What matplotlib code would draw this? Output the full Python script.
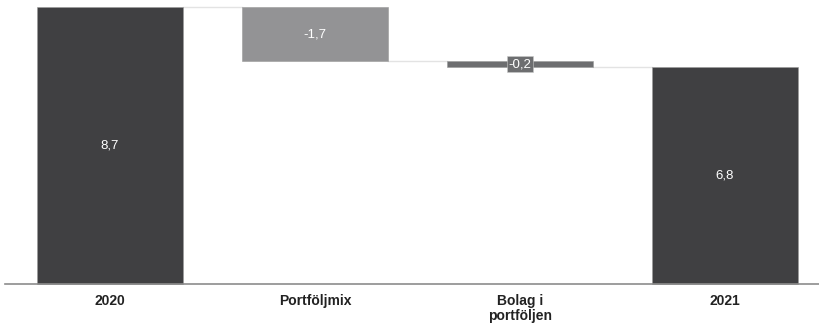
import matplotlib.pyplot as plt
from matplotlib import font_manager

# Data of the waterfall
categories = ["2020", "Portföljmix", "Bolag i\nportföljen", "2021"]
values = [8.7, -1.7, -0.2, 6.8]
labels = ["8,7", "-1,7", "-0,2", "6,8"]
kinds = ["total", "delta", "delta", "total"]

colors = ["#404042", "#939395", "#6d6e70", "#404042"]

fams = [f.name for f in font_manager.fontManager.ttflist]
font = "Liberation Sans Narrow" if "Liberation Sans Narrow" in fams else "Liberation Sans"
plt.rcParams["font.family"] = [font, "DejaVu Sans"]

fig = plt.figure(figsize=(8.19, 3.24), dpi=100)
W, H = 819, 324
ax = fig.add_axes([5 / W, (H - 284) / H, (W - 5) / W, (284 - 7) / H])

# compute bottoms for the waterfall
bottoms = []
heights = []
running = 0
for v, k in zip(values, kinds):
    if k == "total":
        bottoms.append(0)
        heights.append(v)
        running = v
    else:
        bottoms.append(running + v)
        heights.append(-v)
        running = running + v

x = list(range(len(categories)))
bars = ax.bar(x, heights, bottom=bottoms, width=0.71, color=colors,
              edgecolor="#9a9a9a", linewidth=0.4, clip_on=False, zorder=2)

# connector lines
for i in range(len(x) - 1):
    level = bottoms[i] + heights[i] if (kinds[i] == "total" or i == 0) else bottoms[i]
    if kinds[i + 1] == "delta" and kinds[i] == "total":
        level = bottoms[i] + heights[i]
    ax.plot([x[i] + 0.355, x[i + 1] - 0.355], [level, level], color="#e3e3e3",
            lw=1.0, clip_on=False, zorder=1)

# value labels
for i, b in enumerate(bars):
    cy = bottoms[i] + heights[i] / 2
    if abs(heights[i]) < 0.5:
        ax.text(x[i], cy, labels[i], ha="center", va="center", color="white",
                fontsize=9.5, zorder=3,
                bbox=dict(boxstyle="square,pad=0.15", fc="#6d6e70", ec="#c8c8c8", lw=0.4))
    else:
        ax.text(x[i], cy, labels[i], ha="center", va="center", color="white",
                fontsize=9.5, zorder=3)

ax.set_xlim(-0.512, 3.459)
ax.set_ylim(0, 8.7)
ax.set_xticks(x)
ax.set_xticklabels(categories, fontsize=10, fontweight="bold", color="#222222",
                   linespacing=1.15)
ax.tick_params(axis="x", length=0, pad=7)
ax.set_yticks([])
for s in ["top", "right", "left"]:
    ax.spines[s].set_visible(False)
ax.spines["bottom"].set_color("#8c8c8c")
ax.spines["bottom"].set_linewidth(1.2)

fig.savefig("out.png", dpi=100)
